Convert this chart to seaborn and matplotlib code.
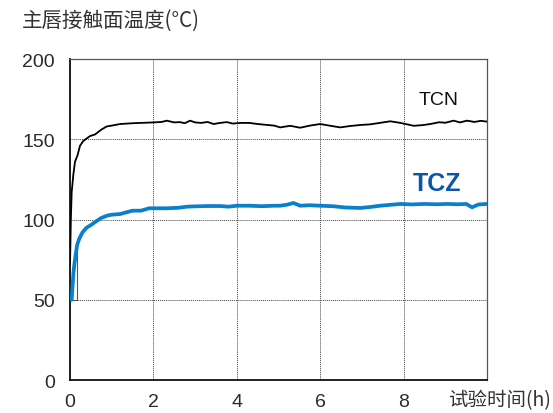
import matplotlib
matplotlib.use("Agg")
import matplotlib.pyplot as plt
import seaborn as sns
import pandas as pd

# Contact-surface temperature of the main lip over test time
tcn_time = [0, 0.02, 0.04, 0.08, 0.12, 0.18, 0.24, 0.32, 0.40, 0.48, 0.6, 0.75, 0.88,
            1.0, 1.2, 1.5, 1.8, 2.0, 2.2, 2.32, 2.5, 2.64, 2.75, 2.88, 3.0, 3.15, 3.3,
            3.44, 3.6, 3.76, 3.9, 4.1, 4.3, 4.5, 4.7, 4.9, 5.04, 5.28, 5.52, 5.75, 6.0,
            6.2, 6.48, 6.7, 6.96, 7.2, 7.45, 7.68, 7.9, 8.05, 8.24, 8.45, 8.64, 8.85,
            9.0, 9.2, 9.35, 9.52, 9.7, 9.85, 10.0]
tcn_temp = [72, 100, 117, 128, 136, 140, 146, 149, 150.5, 152, 153, 156, 158,
            158.5, 159.5, 160, 160.3, 160.5, 160.8, 161.6, 160.5, 160.7, 160, 161.6, 160.5,
            160.2, 160.8, 159.5, 160.2, 160.7, 159.8, 160.2, 160.2, 159.5, 159.0, 158.5,
            157.4, 158.4, 157.2, 158.5, 159.5, 158.6, 157.4, 158.2, 158.9, 159.3, 160.3,
            161.2, 160.3, 159.5, 158.4, 158.8, 159.5, 160.6, 160.3, 161.6, 160.5, 161.6,
            160.8, 161.5, 161]

tcz_time = [0.04, 0.06, 0.08, 0.1, 0.13, 0.17, 0.22, 0.3, 0.4, 0.5, 0.6, 0.75, 0.9,
            1.0, 1.2, 1.35, 1.5, 1.7, 1.9, 2.0, 2.3, 2.6, 2.8, 3.0, 3.3, 3.6, 3.8, 4.0,
            4.3, 4.6, 4.9, 5.04, 5.2, 5.36, 5.52, 5.75, 6.0, 6.3, 6.6, 6.96, 7.2, 7.44,
            7.7, 7.92, 8.2, 8.5, 8.8, 9.04, 9.3, 9.5, 9.64, 9.8, 10.0]
tcz_temp = [50, 58, 66, 71, 77, 84, 88, 92, 95, 96.5, 98.4, 101, 102.5,
            103, 103.4, 104.5, 105.5, 105.5, 107, 107, 107, 107.3, 108, 108.2, 108.4,
            108.4, 108, 108.6, 108.6, 108.3, 108.6, 108.6, 109.2, 110.3, 108.6, 108.9,
            108.6, 108.3, 107.5, 107.2, 107.8, 108.6, 109.2, 109.7, 109.4, 109.7, 109.5,
            109.7, 109.5, 109.7, 107.6, 109.4, 109.7]

# start-up trace of the TCZ probe
probe_time = [0, 0.16, 0.16]
probe_temp = [50, 50, 84]

y_ticks = [0, 50, 100, 150, 200]
x_ticks = [0, 2, 4, 6, 8]

sns.set_style("white")
plt.rcParams["font.family"] = ["Liberation Sans", "Noto Sans CJK SC", "DejaVu Sans"]
cjk = ["Noto Sans CJK SC", "DejaVu Sans"]

df = pd.concat([
    pd.DataFrame({"time": tcn_time, "temp": tcn_temp, "series": "TCN"}),
    pd.DataFrame({"time": tcz_time, "temp": tcz_temp, "series": "TCZ"}),
])

fig = plt.figure(figsize=(5.53, 4.14), dpi=100)
ax = fig.add_axes([0.1266, 0.0797, 0.7541, 0.7753])

ax.plot(probe_time, probe_temp, color="#555555", lw=0.8, zorder=2)
sns.lineplot(data=df[df.series == "TCN"], x="time", y="temp", color="black",
             lw=1.3, ax=ax, zorder=3, estimator=None, sort=False)
sns.lineplot(data=df[df.series == "TCZ"], x="time", y="temp", color="#0a7fcc",
             lw=2.7, ax=ax, zorder=4, estimator=None, sort=False)

ax.set_xlim(0, 10)
ax.set_ylim(0, 200)
ax.set_xticks(x_ticks)
ax.set_yticks(y_ticks)
ax.set_xlabel("")
ax.set_ylabel("")
ax.tick_params(axis="both", length=0, labelsize=14, colors="#2a2a2a")
ax.tick_params(axis="y", pad=11)
ax.tick_params(axis="x", pad=9)

ax.grid(True, color="#444444", linestyle=(0, (1, 1)), lw=0.7)
ax.set_axisbelow(True)

for side in ("left", "bottom"):
    ax.spines[side].set_color("#111111")
    ax.spines[side].set_linewidth(1.3)
for side in ("top", "right"):
    ax.spines[side].set_color("#555555")
    ax.spines[side].set_linewidth(0.9)

ax.text(8.85, 174.5, "TCN", fontsize=14, color="#111111", ha="center", va="center")
ax.text(8.8, 122.5, "TCZ", fontsize=18, fontweight="bold", color="#0a56a8",
        ha="center", va="center")

fig.text(22 / 553, 1 - 21 / 414, "主唇接触面温度(°C)", fontsize=14.8, color="#333333",
         ha="left", va="center", family=cjk)
fig.text(448 / 553, 1 - 401 / 414, "试验时间(h)", fontsize=14, color="#333333",
         ha="left", va="center", family=cjk)

fig.savefig("out.png", dpi=100)
